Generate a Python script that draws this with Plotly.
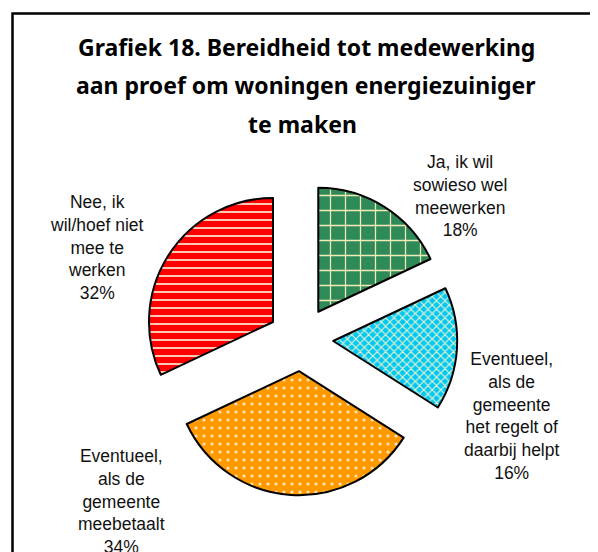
import plotly.graph_objects as go

# ---- data ----
categories = [
    "Ja, ik wil<br>sowieso wel<br>meewerken",
    "Eventueel,<br>als de<br>gemeente<br>het regelt of<br>daarbij helpt",
    "Eventueel,<br>als de<br>gemeente<br>meebetaalt",
    "Nee, ik<br>wil/hoef niet<br>mee te<br>werken",
]
percentages = [18, 16, 34, 32]
title_lines = [
    "Grafiek 18. Bereidheid tot medewerking",
    "aan proef om woningen energiezuiniger",
    "te maken",
]

# ---- styles / layout ----
W, H = 598, 552
OFF = 8  # page body margin offset
colors = ["#2F8A5A", "#00C8F5", "#FF9900", "#FF0000"]
fg_colors = ["#F3EBB5", "#EEF3C8", "#FFE6BE", "#FFC8B4"]
shapes_pat = ["+", "x", ".", "-"]
pat_size = [15, 6, 8, 8]
pat_solid = [0.16, 0.35, 0.12, 0.25]
CLEAR = "rgba(0,0,0,0)"

# slice explosion: main group and the separately-placed last slice
pulls_main = [0.26, 0.26, 0.26, 0.26]
pulls_last = [0.26, 0.26, 0.26, 0.0]

# label positions in reference pixels (centre of text block)
label_px = [(460, 196), (511, 416), (121, 501), (97, 248)]
title_px = [(306, 47), (306, 85), (302, 124)]


def px(x, y):
    return (x - OFF) / W, 1 - (y - OFF) / H


def domain(cx, cy, box=312.5):
    cx -= OFF
    cy -= OFF
    return dict(
        x=[(cx - box / 2) / W, (cx + box / 2) / W],
        y=[1 - (cy + box / 2) / H, 1 - (cy - box / 2) / H],
    )


def pie(visible_idx, pulls, dom):
    n = len(percentages)
    vis = [i in visible_idx for i in range(n)]
    return go.Pie(
        labels=categories,
        values=percentages,
        sort=False,
        direction="clockwise",
        rotation=0,
        pull=pulls,
        textinfo="none",
        hoverinfo="label+percent",
        showlegend=False,
        domain=dom,
        marker=dict(
            colors=[c if v else CLEAR for c, v in zip(colors, vis)],
            line=dict(color=["black" if v else CLEAR for v in vis],
                      width=[2 if v else 0 for v in vis]),
            pattern=dict(
                shape=[s if v else "" for s, v in zip(shapes_pat, vis)],
                bgcolor=[c if v else CLEAR for c, v in zip(colors, vis)],
                fgcolor=[c if v else CLEAR for c, v in zip(fg_colors, vis)],
                size=pat_size,
                solidity=pat_solid,
                fillmode="replace",
            ),
        ),
    )


fig = go.Figure()
fig.add_trace(pie([0, 1, 2], pulls_main, domain(301, 339)))
fig.add_trace(pie([3], pulls_last, domain(273, 322)))

annotations = []
for (x, y), line in zip(title_px, title_lines):
    ax, ay = px(x, y)
    annotations.append(
        dict(
            x=ax, y=ay, xref="paper", yref="paper", text=f"<b>{line}</b>",
            showarrow=False, xanchor="center", yanchor="middle",
            font=dict(family="Noto Sans", size=23, color="black"),
        )
    )
for (x, y), lab, val in zip(label_px, categories, percentages):
    ax, ay = px(x, y)
    annotations.append(
        dict(
            x=ax, y=ay, xref="paper", yref="paper", text=f"{lab}<br>{val}%",
            showarrow=False, xanchor="center", yanchor="middle", align="center",
            font=dict(family="Liberation Sans", size=17.5, color="#111111"),
        )
    )

fx0, fy0 = px(12.5, 13.5)
fig.update_layout(
    width=W,
    height=H,
    margin=dict(l=0, r=0, t=0, b=0),
    paper_bgcolor="white",
    plot_bgcolor="white",
    annotations=annotations,
    shapes=[
        dict(
            type="rect", xref="paper", yref="paper",
            x0=fx0, x1=1.2, y0=-0.2, y1=fy0,
            line=dict(color="black", width=2.5), fillcolor=CLEAR,
        )
    ],
)

fig.write_html("out.html")
